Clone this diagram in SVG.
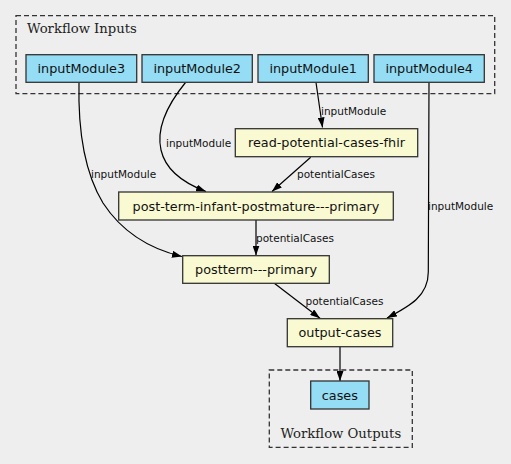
<svg xmlns="http://www.w3.org/2000/svg" width="511" height="464" viewBox="0 0 511 464">
<defs>
<marker id="ah" viewBox="0 0 10 7" refX="10" refY="3.5" markerWidth="10" markerHeight="7" markerUnits="userSpaceOnUse" orient="auto">
<path d="M0,0 L10,3.5 L0,7 Z" fill="#000"/>
</marker>
<style>
.bg{fill:#eeeeee}
.cluster{fill:none;stroke:#333;stroke-width:1.3;stroke-dasharray:5,3}
.ctitle{font-family:"DejaVu Serif",serif;font-size:13.2px;fill:#222}
.in rect{fill:#94ddf4;stroke:#333;stroke-width:1.3}
.tool rect{fill:#fafad2;stroke:#333;stroke-width:1.3}
.node text{font-family:"DejaVu Sans",sans-serif;font-size:12.8px;fill:#111;text-anchor:middle}
.edge{fill:none;stroke:#000;stroke-width:1.2;marker-end:url(#ah)}
.elabel{font-family:"DejaVu Sans",sans-serif;font-size:10.5px;fill:#111}
</style>
</defs>
<rect class="bg" x="0" y="0" width="511" height="464"/>
<g id="cluster-inputs">
<rect class="cluster" x="16" y="15.7" width="478.7" height="78"/>
<text class="ctitle" x="27" y="33">Workflow Inputs</text>
</g>
<g id="cluster-outputs">
<rect class="cluster" x="269.3" y="370" width="143" height="77.3"/>
<text class="ctitle" x="340.8" y="438" text-anchor="middle">Workflow Outputs</text>
</g>
<g id="connectors">
<path class="edge" d="M316,82.5 L322.5,127.5"/>
<text class="elabel" x="321" y="115">inputModule</text>
<path class="edge" d="M185.5,82.5 C168,104 156,128 161,150 C166,172 186,184 206,191.5"/>
<text class="elabel" x="166" y="146.5">inputModule</text>
<path class="edge" d="M79,82.5 C78,125 83,170 103,203 C122,232 150,249 182,256.5"/>
<text class="elabel" x="91" y="178">inputModule</text>
<path class="edge" d="M429,82.5 L428.3,272 C428.3,296 410,306 387,318"/>
<text class="elabel" x="428" y="210">inputModule</text>
<path class="edge" d="M310.7,157.3 L272,191.5"/>
<text class="elabel" x="297" y="178">potentialCases</text>
<path class="edge" d="M256,220 L256,255.5"/>
<text class="elabel" x="256" y="241.5">potentialCases</text>
<path class="edge" d="M274.3,283.3 L320,318.3"/>
<text class="elabel" x="305.5" y="305">potentialCases</text>
<path class="edge" d="M340,346.7 L340,381"/>
</g>
<g id="inputModule3" class="node in"><rect x="26" y="54.7" width="110.7" height="27.6"/><text x="81.3" y="73">inputModule3</text></g>
<g id="inputModule2" class="node in"><rect x="142" y="54.7" width="110.3" height="27.6"/><text x="197.2" y="73">inputModule2</text></g>
<g id="inputModule1" class="node in"><rect x="258" y="54.7" width="110.3" height="27.6"/><text x="313.2" y="73">inputModule1</text></g>
<g id="inputModule4" class="node in"><rect x="374" y="54.7" width="110.3" height="27.6"/><text x="429.2" y="73">inputModule4</text></g>
<g id="read-potential-cases-fhir" class="node tool"><rect x="235.3" y="128.7" width="182.4" height="28"/><text x="326.5" y="147.3">read-potential-cases-fhir</text></g>
<g id="post-term-infant-postmature---primary" class="node tool"><rect x="118.7" y="192" width="274.6" height="28"/><text x="256" y="210.6">post-term-infant-postmature---primary</text></g>
<g id="postterm---primary" class="node tool"><rect x="182.7" y="255.7" width="146.6" height="27.6"/><text x="256" y="274">postterm---primary</text></g>
<g id="output-cases" class="node tool"><rect x="287.3" y="318.7" width="105.4" height="28"/><text x="340" y="337.3">output-cases</text></g>
<g id="cases" class="node in"><rect x="310.7" y="381" width="58.3" height="28"/><text x="339.8" y="399.6">cases</text></g>
</svg>
